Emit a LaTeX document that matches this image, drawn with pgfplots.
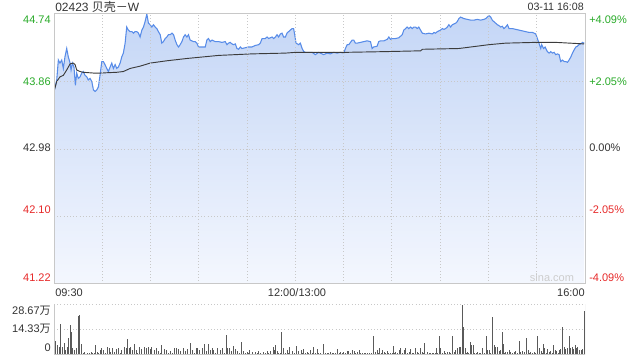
\documentclass[border=0pt]{standalone}
\usepackage{pgfplots}
\pgfplotsset{compat=1.18}
\usepackage{pgfplotstable}
\usepackage{fontspec}
\setmainfont{Liberation Sans}
\newfontfamily\cjk{Noto Sans CJK SC}
\definecolor{pline}{RGB}{88,140,232}
\definecolor{ftop}{RGB}{196,214,246}
\definecolor{fbot}{RGB}{244,247,254}
\definecolor{framec}{RGB}{200,200,200}
\definecolor{upgreen}{RGB}{40,170,40}
\definecolor{downred}{RGB}{230,40,40}
\definecolor{txt}{RGB}{51,51,51}
\definecolor{avgc}{RGB}{60,60,60}
\definecolor{volc}{RGB}{90,90,90}

\pgfplotstableread{
m p
0 43.73
1.7 43.88
2.7 44.14
3.7 44.10
4.8 44.14
5.8 44.03
6.8 44.18
7.9 44.29
8.9 44.18
10.0 44.10
10.6 44.01
11.4 44.10
12.4 44.05
13.3 43.81
14.1 43.97
15.1 43.90
16.2 43.92
17.2 43.97
18.2 43.99
19.3 43.94
20.4 43.92
21.3 43.88
22.4 43.90
23.5 43.86
24.5 43.75
25.5 43.73
26.6 43.75
27.6 43.79
28.6 43.94
29.7 44.12
30.7 44.12
31.7 44.08
32.8 44.03
33.8 43.99
34.9 44.05
35.9 44.10
36.9 44.03
38.0 44.08
39.0 44.03
40.0 44.05
41.1 44.10
42.1 44.18
43.1 44.23
44.2 44.36
45.2 44.57
46.2 44.53
47.3 44.51
48.4 44.51
49.4 44.49
50.4 44.51
51.5 44.51
52.5 44.49
53.5 44.44
54.6 44.53
55.6 44.57
56.6 44.64
57.7 44.74
58.7 44.62
59.8 44.60
60.8 44.57
61.8 44.60
62.9 44.57
63.9 44.55
64.9 44.51
66.0 44.47
67.0 44.36
68.0 44.38
69.1 44.42
70.1 44.44
71.1 44.47
72.2 44.47
73.3 44.49
74.3 44.47
75.3 44.40
76.4 44.34
77.4 44.31
78.4 44.34
79.5 44.38
80.5 44.44
81.5 44.47
82.6 44.44
83.6 44.47
84.6 44.40
86.7 44.38
87.8 44.38
88.8 44.36
89.8 44.31
91.9 44.31
94.0 44.31
95.0 44.40
96.0 44.42
97.1 44.38
98.2 44.40
100.2 44.38
102.3 44.38
104.4 44.37
106.4 44.38
107.5 44.34
108.5 44.36
109.5 44.37
110.6 44.35
111.6 44.34
112.7 44.35
113.7 44.29
114.7 44.28
115.8 44.31
116.8 44.29
118.9 44.30
120.9 44.31
123.0 44.31
125.1 44.33
127.2 44.34
128.2 44.36
129.3 44.42
131.3 44.42
132.4 44.44
133.4 44.42
135.5 44.44
136.5 44.42
137.6 44.44
138.6 44.47
139.6 44.44
140.7 44.48
141.7 44.49
142.7 44.44
143.8 44.44
144.8 44.49
145.8 44.51
146.9 44.53
147.9 44.55
148.9 44.55
149.6 44.47
150.4 44.36
152.1 44.34
153.1 44.36
154.2 44.29
155.2 44.25
156.2 44.24
158.3 44.24
160.4 44.24
162.4 44.21
164.5 44.24
166.6 44.22
167.6 44.21
169.7 44.23
171.8 44.22
173.8 44.24
176.0 44.23
178.0 44.24
180.1 44.23
181.1 44.29
182.2 44.34
183.2 44.34
185.3 44.40
186.3 44.40
187.3 44.36
188.4 44.36
190.5 44.37
192.5 44.38
194.6 44.39
196.7 44.38
197.7 44.29
198.7 44.31
200.8 44.32
201.8 44.38
202.9 44.39
205.0 44.39
207.1 44.41
208.1 44.44
209.1 44.41
210.2 44.42
212.2 44.42
214.3 44.43
216.4 44.47
217.4 44.53
218.5 44.55
219.5 44.57
220.5 44.55
221.6 44.57
222.6 44.55
223.6 44.57
224.7 44.57
225.7 44.55
226.7 44.57
227.8 44.53
228.9 44.49
230.9 44.48
233.0 44.49
235.1 44.48
236.1 44.50
237.1 44.49
238.2 44.51
240.2 44.53
241.3 44.55
242.3 44.54
243.4 44.55
244.4 44.57
245.4 44.60
246.5 44.57
247.5 44.60
249.6 44.62
250.6 44.64
251.6 44.68
252.7 44.70
254.7 44.68
256.9 44.67
258.9 44.66
261.0 44.66
263.1 44.67
265.1 44.66
267.2 44.67
268.3 44.68
269.3 44.70
270.3 44.72
271.4 44.70
272.4 44.66
273.4 44.64
274.5 44.62
275.5 44.60
276.5 44.59
277.6 44.57
278.6 44.58
279.6 44.55
280.7 44.57
281.8 44.60
282.8 44.55
284.9 44.55
286.9 44.54
289.0 44.53
291.1 44.52
293.1 44.51
295.2 44.50
297.3 44.50
299.4 44.48
300.4 44.42
301.4 44.36
302.5 44.29
303.1 44.34
304.2 44.29
305.2 44.31
306.6 44.25
307.7 44.23
308.7 44.25
309.8 44.23
310.8 44.24
311.8 44.21
312.9 44.22
313.9 44.21
314.9 44.12
316.0 44.14
317.0 44.12
318.0 44.12
319.1 44.11
320.1 44.14
321.2 44.18
322.2 44.23
323.2 44.27
324.3 44.31
325.3 44.32
326.3 44.34
327.4 44.35
328.4 44.37
329.5 44.36
}\price

\pgfplotstableread{
m a
0 43.73
1.7 43.86
3.7 43.92
5.8 43.94
7.9 44.01
10.0 44.09
12.0 44.10
13.1 44.08
14.1 44.01
16.2 43.99
18.2 43.98
24.5 43.97
28.6 43.97
39.0 43.98
43.1 43.99
47.3 44.03
53.5 44.06
59.8 44.10
70.1 44.13
82.6 44.16
102.3 44.20
123.0 44.22
143.8 44.23
150.0 44.24
167.6 44.24
181.1 44.24
207.1 44.25
227.8 44.26
229.0 44.28
251.6 44.29
270.3 44.34
280.7 44.36
299.4 44.37
311.8 44.37
329.5 44.35
}\avgtab

\pgfplotstableread{
m v
0.8 7.9
2.1 5.7
3.1 4.7
4.1 17.4
5.2 4.7
6.2 6.6
7.3 2.8
8.3 4.7
9.1 9.8
10.2 16.6
10.8 13.2
11.6 3.8
12.7 2.8
13.7 4.1
14.9 21.7
15.6 22.6
16.8 6.0
18.0 1.2
19.0 1.5
20.0 0.8
21.0 1.3
22.0 1.0
23.0 1.6
24.0 0.9
25.0 1.2
25.7 5.7
26.8 1.5
27.7 1.0
28.6 2.8
29.7 3.8
30.7 2.8
31.9 1.2
33.2 4.7
34.4 4.1
35.2 1.5
36.1 3.8
37.4 1.5
38.6 3.4
40.0 4.1
41.0 1.2
42.1 2.8
43.6 4.7
44.8 4.1
45.6 9.1
46.9 3.8
47.7 4.7
49.0 2.8
50.0 6.0
51.0 2.8
52.0 1.2
53.1 4.7
54.6 3.4
56.0 4.7
57.3 3.8
58.7 4.7
59.8 3.4
60.8 4.7
62.3 2.8
63.5 3.8
64.9 2.3
66.0 1.2
67.0 5.7
68.5 3.4
70.1 2.8
71.2 1.2
72.2 2.3
73.5 1.0
74.7 3.8
75.9 3.8
77.4 3.4
78.8 2.3
80.5 3.8
81.5 2.3
83.0 3.4
84.7 6.6
86.3 2.8
87.3 1.2
88.4 3.8
89.2 4.1
90.5 2.8
92.1 3.8
93.4 6.0
94.6 2.3
96.1 6.0
97.1 2.8
98.4 3.8
99.2 2.8
100.5 1.2
101.7 4.1
103.3 2.8
104.4 3.8
105.6 1.2
106.9 11.3
107.9 3.8
108.7 4.1
110.0 2.3
111.6 5.3
112.7 3.4
113.7 2.3
115.0 1.2
116.4 7.2
117.9 2.3
118.9 1.0
119.9 1.9
120.8 1.0
121.6 2.8
123.0 1.9
124.0 0.8
125.1 1.9
126.2 1.0
127.2 2.3
128.5 1.0
130.3 1.9
131.4 1.0
132.4 2.3
133.5 1.0
134.5 2.3
136.1 4.7
137.0 2.8
137.8 5.7
138.6 2.3
139.6 1.0
140.5 1.2
141.5 12.8
142.8 4.1
143.8 1.2
144.8 2.8
145.6 1.2
146.5 4.7
147.9 2.3
149.2 1.0
150.6 5.3
152.1 2.3
153.5 2.8
154.3 1.2
155.2 3.4
156.2 1.0
157.3 1.9
158.4 1.2
159.4 2.8
160.4 1.0
161.4 4.7
162.4 1.2
163.5 3.4
164.6 1.0
165.6 1.2
167.7 6.0
168.7 1.0
169.7 0.9
170.8 1.2
171.8 1.9
172.9 1.0
173.9 0.9
175.0 1.2
176.4 3.4
177.2 1.0
178.1 1.9
179.1 1.2
180.1 1.9
181.2 1.0
182.2 2.3
183.2 2.3
184.2 1.2
185.3 2.8
186.4 2.3
187.4 1.0
188.4 1.9
189.5 2.8
190.5 1.0
191.5 0.9
192.6 1.0
193.6 1.2
194.7 0.9
195.7 1.0
196.7 0.8
197.4 1.0
198.2 10.4
199.8 1.9
200.9 2.8
201.6 1.2
202.5 3.8
203.3 1.0
204.0 2.8
205.4 1.9
206.2 1.0
207.1 2.3
208.1 1.0
209.2 0.9
210.0 1.0
210.8 5.3
211.5 1.2
212.3 1.9
213.4 1.0
214.4 2.8
215.4 3.8
216.5 1.2
217.5 2.8
218.5 3.8
219.5 1.0
220.6 1.9
221.6 3.4
222.6 1.0
223.5 1.2
224.3 3.8
225.8 1.9
226.6 1.0
227.4 4.1
228.9 1.9
229.7 1.0
230.5 6.6
232.0 1.9
233.0 1.0
234.0 1.2
235.1 0.9
236.0 1.0
237.0 1.2
237.8 4.1
238.5 1.2
239.3 10.4
240.3 3.8
241.4 1.2
242.4 2.3
243.4 1.0
244.5 1.9
245.5 1.9
246.5 1.0
247.4 10.9
248.6 1.9
249.6 2.8
250.7 4.1
251.7 4.7
252.8 4.7
253.8 28.3
254.4 15.5
255.4 3.8
256.2 1.0
256.9 1.9
257.8 1.0
258.6 7.5
259.4 5.7
260.4 5.7
261.3 1.0
262.2 1.2
263.1 1.9
264.2 0.9
265.2 1.0
266.2 3.8
267.3 1.2
268.5 10.4
269.4 2.8
270.4 2.8
271.3 1.0
272.3 21.1
273.5 5.7
274.5 4.7
275.6 4.7
276.8 2.3
277.7 2.8
278.7 13.2
279.1 6.0
280.0 1.0
280.8 1.9
281.8 1.9
282.8 2.8
283.9 1.9
285.0 1.0
286.0 1.9
287.0 2.3
288.0 1.0
289.1 7.9
290.1 1.9
291.1 2.3
292.2 1.9
293.6 9.4
294.7 2.8
295.5 1.0
296.3 1.9
297.3 1.0
298.4 1.9
299.4 1.0
300.5 10.4
301.5 4.1
302.6 2.3
303.4 1.0
304.2 6.0
305.0 3.8
305.8 1.2
306.7 3.4
307.7 1.9
308.8 2.3
309.5 1.0
310.2 5.7
311.3 2.8
312.5 2.3
313.3 1.0
314.0 2.8
315.0 3.4
315.8 16.0
317.1 4.7
318.1 3.4
319.2 4.1
320.4 10.9
321.2 3.8
322.3 4.7
322.9 3.4
323.9 5.7
324.8 4.1
325.4 4.7
326.4 2.8
327.5 2.8
328.5 3.4
329.5 2.8
329.9 24.9
}\voltab

\begin{document}
\begin{tikzpicture}
\useasboundingbox (0,0) rectangle (480pt,270pt);
\begin{axis}[
  at={(40.5pt,57pt)}, anchor=south west,
  width=398.25pt, height=202.5pt, scale only axis,
  xmin=0, xmax=330, ymin=41.22, ymax=44.74,
  xtick={30,60,...,300}, ytick={42.10,42.98,43.86},
  xticklabel={\relax}, yticklabel={\relax},
  major tick length=0pt,
  grid=major, grid style={dotted, framec, line width=0.7pt},
  axis line style={framec, line width=0.75pt},
  axis on top,
]
\addplot[draw=none, top color=ftop, bottom color=fbot] table[x=m,y=p] {\price} \closedcycle;
\addplot[pline, line width=0.8pt] table[x=m,y=p] {\price};
\addplot[avgc, line width=0.7pt] table[x=m,y=a] {\avgtab};
\end{axis}

\begin{axis}[
  at={(40.5pt,3.75pt)}, anchor=south west,
  width=398.25pt, height=38.25pt, scale only axis,
  xmin=0, xmax=330, ymin=0, ymax=28.67,
  xtick=\empty, ytick={14.33,28.67},
  yticklabel={\relax},
  major tick length=0pt,
  ymajorgrids, grid style={dotted, framec, line width=0.7pt},
  axis line style={draw=none},
]
\addplot[ycomb, volc, line width=0.6pt, mark=none] table[x=m,y=v] {\voltab};
\draw[framec, line width=0.75pt] (rel axis cs:0,1) -- (rel axis cs:0,0) -- (rel axis cs:1,0) -- (rel axis cs:1,1);
\end{axis}

% title texts
\node[anchor=west, inner sep=0pt, font=\fontsize{9pt}{10pt}\selectfont, text=txt] at (41.25pt,264.75pt) {02423 {\cjk 贝壳－}W};
\node[anchor=east, inner sep=0pt, font=\fontsize{8pt}{9pt}\selectfont, text=txt] at (438pt,264.75pt) {03-11 16:08};

% left price labels
\begin{scope}[every node/.style={anchor=east, inner sep=0pt, font=\fontsize{8.25pt}{9pt}\selectfont}]
\node[text=upgreen] at (38.25pt,255pt) {44.74};
\node[text=upgreen] at (38.25pt,208.5pt) {43.86};
\node[text=txt] at (38.25pt,159pt) {42.98};
\node[text=downred] at (38.25pt,112.5pt) {42.10};
\node[text=downred] at (38.25pt,61.5pt) {41.22};
\node[text=txt] at (38.25pt,36.75pt) {28.67{\cjk 万}};
\node[text=txt] at (38.25pt,23.25pt) {14.33{\cjk 万}};
\node[text=txt] at (38.25pt,9pt) {0};
\end{scope}

% right percent labels
\begin{scope}[every node/.style={anchor=west, inner sep=0pt, font=\fontsize{8.25pt}{9pt}\selectfont}]
\node[text=upgreen] at (441.75pt,255pt) {+4.09\%};
\node[text=upgreen] at (441.75pt,208.5pt) {+2.05\%};
\node[text=txt] at (441.75pt,159pt) {0.00\%};
\node[text=downred] at (441.75pt,112.5pt) {-2.05\%};
\node[text=downred] at (441.75pt,61.5pt) {-4.09\%};
\end{scope}

% time labels
\begin{scope}[every node/.style={inner sep=0pt, font=\fontsize{8.25pt}{9pt}\selectfont, text=txt}]
\node[anchor=west] at (41.25pt,50.25pt) {09:30};
\node[anchor=center] at (222.75pt,50.25pt) {12:00/13:00};
\node[anchor=east] at (438.75pt,50.25pt) {16:00};
\end{scope}

\node[inner sep=0pt, font=\fontsize{8.25pt}{9pt}\selectfont, text={rgb,255:red,205;green,205;blue,205}] at (414pt,61.5pt) {sina.com};
\end{tikzpicture}
\end{document}
